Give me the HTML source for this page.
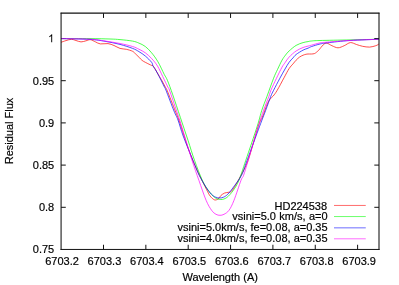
<!DOCTYPE html>
<html><head><meta charset="utf-8"><title>plot</title>
<style>
html,body{margin:0;padding:0;background:#fff;}
body{width:399px;height:285px;overflow:hidden;position:relative;}
svg{will-change:transform;}
svg text{font-family:"Liberation Sans",sans-serif;font-size:11px;fill:#000;stroke:#000;stroke-width:0.18px;}
</style></head><body>
<svg width="399" height="285" viewBox="0 0 399 285" style="position:absolute;left:0;top:0">
<rect width="399" height="285" fill="#fff"/>
<path d="M103.50 249.45 V244.75 M103.50 13.25 V17.95 M145.85 249.45 V244.75 M145.85 13.25 V17.95 M188.20 249.45 V244.75 M188.20 13.25 V17.95 M230.55 249.45 V244.75 M230.55 13.25 V17.95 M272.90 249.45 V244.75 M272.90 13.25 V17.95 M315.25 249.45 V244.75 M315.25 13.25 V17.95 M357.60 249.45 V244.75 M357.60 13.25 V17.95 M61.08 207.30 H65.78 M379.00 207.30 H374.30 M61.08 165.10 H65.78 M379.00 165.10 H374.30 M61.08 122.90 H65.78 M379.00 122.90 H374.30 M61.08 80.70 H65.78 M379.00 80.70 H374.30 M61.08 38.50 H65.78 M379.00 38.50 H374.30" stroke="#111" stroke-width="1.0" fill="none"/>
<path d="M61.00 42.30 C61.83 42.02 64.27 41.10 66.00 40.60 C67.73 40.10 69.73 39.32 71.40 39.30 C73.07 39.28 74.40 40.07 76.00 40.50 C77.60 40.93 79.33 41.85 81.00 41.90 C82.67 41.95 84.43 41.17 86.00 40.80 C87.57 40.43 88.82 39.52 90.40 39.70 C91.98 39.88 93.85 41.20 95.50 41.90 C97.15 42.60 98.22 43.62 100.30 43.90 C102.38 44.18 105.72 43.33 108.00 43.60 C110.28 43.87 112.00 44.70 114.00 45.50 C116.00 46.30 117.95 47.77 120.00 48.40 C122.05 49.03 124.20 48.82 126.30 49.30 C128.40 49.78 131.02 50.50 132.60 51.30 C134.18 52.10 134.75 53.12 135.80 54.10 C136.85 55.08 137.85 56.15 138.90 57.20 C139.95 58.25 141.03 59.55 142.10 60.40 C143.17 61.25 144.15 61.67 145.30 62.30 C146.45 62.93 147.95 63.68 149.00 64.20 C150.05 64.72 150.83 65.00 151.60 65.40 C152.37 65.80 152.32 64.78 153.60 66.60 C154.88 68.42 157.90 73.93 159.30 76.30 C160.70 78.67 161.00 79.02 162.00 80.80 C163.00 82.58 164.42 85.33 165.30 87.00 C166.18 88.67 165.63 86.80 167.30 90.80 C168.97 94.80 173.37 106.13 175.30 111.00 C177.23 115.87 177.42 115.83 178.90 120.00 C180.38 124.17 182.65 131.28 184.20 136.00 C185.75 140.72 186.42 143.42 188.20 148.30 C189.98 153.18 192.77 160.30 194.90 165.30 C197.03 170.30 199.08 174.32 201.00 178.30 C202.92 182.28 204.87 186.23 206.40 189.20 C207.93 192.17 208.83 194.32 210.20 196.10 C211.57 197.88 213.23 199.47 214.60 199.90 C215.97 200.33 217.35 199.43 218.40 198.70 C219.45 197.97 219.85 196.45 220.90 195.50 C221.95 194.55 223.43 193.53 224.70 193.00 C225.97 192.47 227.35 192.62 228.50 192.30 C229.65 191.98 230.35 192.43 231.60 191.10 C232.85 189.77 234.43 186.93 236.00 184.30 C237.57 181.67 238.98 179.30 241.00 175.30 C243.02 171.30 245.22 168.47 248.10 160.30 C250.98 152.13 255.92 133.52 258.30 126.30 C260.68 119.08 261.32 119.67 262.40 117.00 C263.48 114.33 264.08 112.25 264.80 110.30 C265.52 108.35 266.10 106.75 266.70 105.30 C267.30 103.85 267.82 102.67 268.40 101.60 C268.98 100.53 269.40 99.83 270.20 98.90 C271.00 97.97 272.03 97.43 273.20 96.00 C274.37 94.57 275.40 93.33 277.20 90.30 C279.00 87.27 282.02 81.42 284.00 77.80 C285.98 74.18 287.60 70.92 289.10 68.60 C290.60 66.28 291.83 65.30 293.00 63.90 C294.17 62.50 295.02 61.33 296.10 60.20 C297.18 59.07 298.33 57.93 299.50 57.10 C300.67 56.27 302.03 55.67 303.10 55.20 C304.17 54.73 305.08 54.50 305.90 54.30 C306.72 54.10 307.08 54.05 308.00 54.00 C308.92 53.95 310.33 54.07 311.40 54.00 C312.47 53.93 313.55 53.90 314.40 53.60 C315.25 53.30 315.77 52.78 316.50 52.20 C317.23 51.62 317.68 51.32 318.80 50.10 C319.92 48.88 321.88 46.07 323.20 44.90 C324.52 43.73 325.25 42.97 326.70 43.10 C328.15 43.23 330.02 44.92 331.90 45.70 C333.78 46.48 335.95 47.80 338.00 47.80 C340.05 47.80 342.13 46.57 344.20 45.70 C346.27 44.83 348.35 42.80 350.40 42.60 C352.45 42.40 354.47 43.88 356.50 44.50 C358.53 45.12 360.42 45.87 362.60 46.30 C364.78 46.73 367.40 47.20 369.60 47.10 C371.80 47.00 374.23 46.22 375.80 45.70 C377.37 45.18 378.47 44.28 379.00 44.00" stroke="#ff0000" stroke-width="0.7" fill="none" stroke-linejoin="round"/>
<path d="M61.00 38.60 C65.83 38.60 81.83 38.53 90.00 38.60 C98.17 38.67 105.00 38.83 110.00 39.00 C115.00 39.17 116.23 39.25 120.00 39.60 C123.77 39.95 129.45 40.52 132.60 41.10 C135.75 41.68 136.78 42.20 138.90 43.10 C141.02 44.00 143.18 44.88 145.30 46.50 C147.42 48.12 149.50 50.27 151.60 52.80 C153.70 55.33 155.80 58.12 157.90 61.70 C160.00 65.28 162.62 71.20 164.20 74.30 C165.78 77.40 165.97 76.87 167.40 80.30 C168.83 83.73 170.65 88.73 172.80 94.90 C174.95 101.07 177.77 109.73 180.30 117.30 C182.83 124.87 185.63 133.13 188.00 140.30 C190.37 147.47 192.12 153.63 194.50 160.30 C196.88 166.97 200.00 175.30 202.30 180.30 C204.60 185.30 206.22 187.43 208.30 190.30 C210.38 193.17 212.72 195.97 214.80 197.50 C216.88 199.03 218.80 199.50 220.80 199.50 C222.80 199.50 224.72 199.03 226.80 197.50 C228.88 195.97 231.28 193.17 233.30 190.30 C235.32 187.43 236.82 185.30 238.90 180.30 C240.98 175.30 242.75 169.30 245.80 160.30 C248.85 151.30 254.53 134.63 257.20 126.30 C259.87 117.97 260.17 115.30 261.80 110.30 C263.43 105.30 265.03 101.65 267.00 96.30 C268.97 90.95 271.83 82.70 273.60 78.20 C275.37 73.70 276.20 72.30 277.60 69.30 C279.00 66.30 280.68 62.57 282.00 60.20 C283.32 57.83 284.32 56.63 285.50 55.10 C286.68 53.57 287.33 52.62 289.10 51.00 C290.87 49.38 293.77 46.80 296.10 45.40 C298.43 44.00 301.12 43.23 303.10 42.60 C305.08 41.97 306.62 41.87 308.00 41.60 C309.38 41.33 309.40 41.18 311.40 41.00 C313.40 40.82 313.57 40.68 320.00 40.50 C326.43 40.32 340.17 40.11 350.00 39.90 C359.83 39.69 374.17 39.36 379.00 39.25" stroke="#00ff00" stroke-width="0.7" fill="none" stroke-linejoin="round"/>
<path d="M61.00 38.60 C65.83 38.73 82.67 38.95 90.00 39.40 C97.33 39.85 100.00 40.47 105.00 41.30 C110.00 42.13 115.40 43.22 120.00 44.40 C124.60 45.58 129.45 47.20 132.60 48.40 C135.75 49.60 136.78 50.33 138.90 51.60 C141.02 52.87 143.18 54.22 145.30 56.00 C147.42 57.78 150.32 60.63 151.60 62.30 C152.88 63.97 152.37 64.78 153.00 66.00 C153.63 67.22 154.37 67.85 155.40 69.60 C156.43 71.35 157.70 73.60 159.20 76.50 C160.70 79.40 163.28 84.75 164.40 87.00 C165.52 89.25 164.30 86.00 165.90 90.00 C167.50 94.00 171.98 106.00 174.00 111.00 C176.02 116.00 176.47 115.83 178.00 120.00 C179.53 124.17 180.75 129.37 183.20 136.00 C185.65 142.63 190.73 154.92 192.70 159.80 C194.67 164.68 193.92 162.72 195.00 165.30 C196.08 167.88 197.30 171.53 199.20 175.30 C201.10 179.07 204.37 184.75 206.40 187.90 C208.43 191.05 209.88 192.67 211.40 194.20 C212.92 195.73 214.13 196.47 215.50 197.10 C216.87 197.73 218.23 198.00 219.60 198.00 C220.97 198.00 222.33 197.73 223.70 197.10 C225.07 196.47 226.27 195.73 227.80 194.20 C229.33 192.67 230.62 191.05 232.90 187.90 C235.18 184.75 239.13 179.90 241.50 175.30 C243.87 170.70 244.08 168.47 247.10 160.30 C250.12 152.13 256.50 134.63 259.60 126.30 C262.70 117.97 263.83 115.30 265.70 110.30 C267.57 105.30 269.48 99.63 270.80 96.30 C272.12 92.97 272.08 93.32 273.60 90.30 C275.12 87.28 277.98 81.77 279.90 78.20 C281.82 74.63 283.57 71.55 285.10 68.90 C286.63 66.25 287.78 64.13 289.10 62.30 C290.42 60.47 291.83 59.20 293.00 57.90 C294.17 56.60 294.42 55.80 296.10 54.50 C297.78 53.20 301.12 51.15 303.10 50.10 C305.08 49.05 306.62 48.78 308.00 48.20 C309.38 47.62 309.40 47.30 311.40 46.60 C313.40 45.90 317.32 44.63 320.00 44.00 C322.68 43.37 322.50 43.38 327.50 42.80 C332.50 42.22 341.42 41.09 350.00 40.50 C358.58 39.91 374.17 39.46 379.00 39.25" stroke="#0000ff" stroke-width="0.7" fill="none" stroke-linejoin="round"/>
<path d="M61.00 38.60 C65.83 38.70 82.67 38.80 90.00 39.20 C97.33 39.60 100.00 40.28 105.00 41.00 C110.00 41.72 115.40 42.58 120.00 43.50 C124.60 44.42 129.45 45.55 132.60 46.50 C135.75 47.45 136.78 48.15 138.90 49.20 C141.02 50.25 143.18 51.25 145.30 52.80 C147.42 54.35 149.57 56.30 151.60 58.50 C153.63 60.70 155.65 63.00 157.50 66.00 C159.35 69.00 160.98 73.00 162.70 76.50 C164.42 80.00 166.68 84.75 167.80 87.00 C168.92 89.25 167.93 86.00 169.40 90.00 C170.87 94.00 174.88 106.00 176.60 111.00 C178.32 116.00 178.37 115.83 179.70 120.00 C181.03 124.17 182.55 129.28 184.60 136.00 C186.65 142.72 189.62 152.92 192.00 160.30 C194.38 167.68 196.55 173.63 198.90 180.30 C201.25 186.97 203.98 195.30 206.10 200.30 C208.22 205.30 209.95 207.97 211.60 210.30 C213.25 212.63 214.60 213.47 216.00 214.30 C217.40 215.13 218.67 215.30 220.00 215.30 C221.33 215.30 222.50 215.13 224.00 214.30 C225.50 213.47 227.33 212.63 229.00 210.30 C230.67 207.97 232.00 205.30 234.00 200.30 C236.00 195.30 239.40 184.47 241.00 180.30 C242.60 176.13 242.40 178.63 243.60 175.30 C244.80 171.97 245.77 168.47 248.20 160.30 C250.63 152.13 255.63 134.63 258.20 126.30 C260.77 117.97 261.82 115.30 263.60 110.30 C265.38 105.30 267.68 99.63 268.90 96.30 C270.12 92.97 269.63 93.32 270.90 90.30 C272.17 87.28 274.65 82.05 276.50 78.20 C278.35 74.35 280.57 69.80 282.00 67.20 C283.43 64.60 283.92 64.28 285.10 62.60 C286.28 60.92 287.27 59.03 289.10 57.10 C290.93 55.17 293.77 52.60 296.10 51.00 C298.43 49.40 301.12 48.32 303.10 47.50 C305.08 46.68 306.62 46.48 308.00 46.10 C309.38 45.72 309.40 45.73 311.40 45.20 C313.40 44.67 317.32 43.42 320.00 42.90 C322.68 42.38 322.50 42.52 327.50 42.10 C332.50 41.68 341.42 40.88 350.00 40.40 C358.58 39.92 374.17 39.44 379.00 39.25" stroke="#ff00ff" stroke-width="0.7" fill="none" stroke-linejoin="round"/>
<path d="M334 205.45 H365.75" stroke="#ff0000" stroke-width="0.58"/>
<text x="327.10" y="209.60" text-anchor="end">HD224538</text>
<path d="M334 216.55 H365.75" stroke="#00ff00" stroke-width="0.58"/>
<text x="327.60" y="220.30" text-anchor="end" style="word-spacing:0.3px">vsini=5.0 km/s, a=0</text>
<path d="M334 227.85 H365.75" stroke="#0000ff" stroke-width="0.58"/>
<text x="327.60" y="231.30" text-anchor="end">vsini=5.0km/s, fe=0.08, a=0.35</text>
<path d="M334 238.80 H365.75" stroke="#ff00ff" stroke-width="0.58"/>
<text x="327.60" y="242.00" text-anchor="end">vsini=4.0km/s, fe=0.08, a=0.35</text>
<path d="M60.58 13.20 H379.50" stroke="#111" stroke-width="1.2" fill="none"/>
<path d="M60.58 249.45 H379.50" stroke="#111" stroke-width="1.0" fill="none"/>
<path d="M61.08 12.80 V249.95 M379.00 12.80 V249.95" stroke="#111" stroke-width="1.05" fill="none"/>
<text x="62.00" y="264.7" text-anchor="middle">6703.2</text>
<text x="104.45" y="264.7" text-anchor="middle">6703.3</text>
<text x="146.90" y="264.7" text-anchor="middle">6703.4</text>
<text x="189.35" y="264.7" text-anchor="middle">6703.5</text>
<text x="231.80" y="264.7" text-anchor="middle">6703.6</text>
<text x="274.25" y="264.7" text-anchor="middle">6703.7</text>
<text x="316.70" y="264.7" text-anchor="middle">6703.8</text>
<text x="359.15" y="264.7" text-anchor="middle">6703.9</text>
<text x="54.2" y="253.40" text-anchor="end">0.75</text>
<text x="54.2" y="211.20" text-anchor="end">0.8</text>
<text x="54.2" y="169.00" text-anchor="end">0.85</text>
<text x="54.2" y="126.80" text-anchor="end">0.9</text>
<text x="54.2" y="84.60" text-anchor="end">0.95</text>
<path transform="translate(48.08 42.15) scale(0.005371 -0.005371)" d="M763 0H583V1147Q518 1085 412.5 1023Q307 961 223 930V1104Q374 1175 487 1276Q600 1377 647 1472H763Z" fill="#000"/>
<text x="220.2" y="280.5" text-anchor="middle">Wavelength (A)</text>
<text transform="translate(13.2 131) rotate(-90)" text-anchor="middle">Residual Flux</text>
</svg>
</body></html>
